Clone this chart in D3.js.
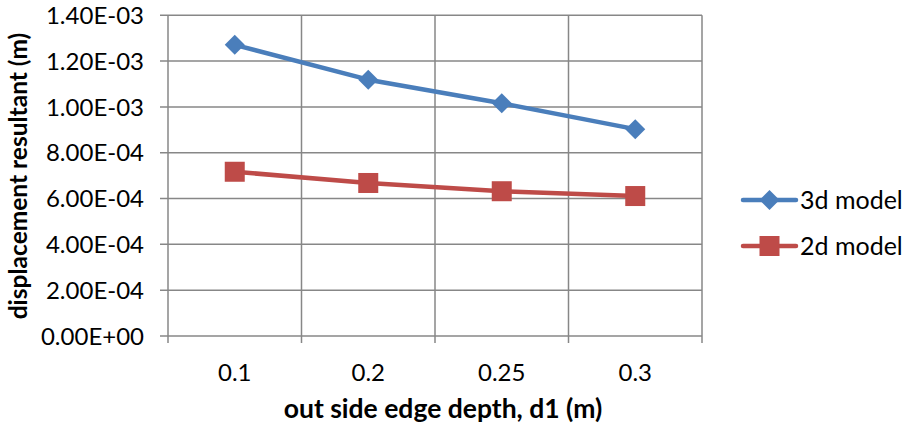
<!DOCTYPE html>
<html><head><meta charset="utf-8">
<script src="https://cdn.jsdelivr.net/npm/d3@7"></script>
<style>body{margin:0;background:#fff}svg{display:block}text{font-family:Lato,"Open Sans",sans-serif;fill:#000}</style>
</head><body>
<svg id="c" width="905" height="427"></svg>
<script>
const categories = ["0.1", "0.2", "0.25", "0.3"];
const series3d = [1.271e-3, 1.119e-3, 1.016e-3, 9.03e-4];
const series2d = [7.17e-4, 6.68e-4, 6.32e-4, 6.11e-4];
const yTicks = [0, 2e-4, 4e-4, 6e-4, 8e-4, 1.0e-3, 1.2e-3, 1.4e-3];
const seriesNames = ["3d model", "2d model"];
const xTitle = "out side edge depth, d1 (m)";
const yTitle = "displacement resultant (m)";

const svg = d3.select("#c");
const L = 168, R = 702, T = 15.3, B = 336;
const x = d3.scaleBand().domain(categories).range([L, R]);
const y = d3.scaleLinear().domain([0, 1.4e-3]).range([B, T]);
const grid = "#878787";
const blue = "#4A7EBB", red = "#BE4B48";

function fmt(v){
  if (v === 0) return "0.00E+00";
  const e = Math.floor(Math.log10(Math.abs(v)) + 1e-9);
  const m = v / Math.pow(10, e);
  const s = e < 0 ? "-" : "+";
  return m.toFixed(2) + "E" + s + String(Math.abs(e)).padStart(2, "0");
}

// horizontal grid
svg.append("g").selectAll("line").data(yTicks).join("line")
  .attr("x1", L - 8).attr("x2", R).attr("y1", d => y(d)).attr("y2", d => y(d))
  .attr("stroke", grid).attr("stroke-width", 1.5);
// vertical grid at band boundaries
const bounds = categories.map(c => x(c)).concat([R]);
svg.append("g").selectAll("line").data(bounds).join("line")
  .attr("x1", d => d).attr("x2", d => d).attr("y1", T).attr("y2", B + 7)
  .attr("stroke", grid).attr("stroke-width", 1.5);

// y tick labels
svg.append("g").selectAll("text").data(yTicks).join("text")
  .attr("x", 144).attr("y", d => y(d)).attr("dy", "0.36em")
  .attr("text-anchor", "end").style("font-size", "24px").text(fmt);
// x tick labels
svg.append("g").selectAll("text").data(categories).join("text")
  .attr("x", d => x(d) + x.bandwidth() / 2).attr("y", 381)
  .attr("text-anchor", "middle").style("font-size", "24px").text(d => d);

// titles
svg.append("text").attr("x", 443).attr("y", 418)
  .attr("text-anchor", "middle").style("font-size", "26.5px").style("font-weight", "bold").text(xTitle);
svg.append("text").attr("transform", "translate(27,176) rotate(-90)")
  .attr("text-anchor", "middle").style("font-size", "24.5px").style("font-weight", "bold").text(yTitle);

const cx = d => x(d) + x.bandwidth() / 2;
const line = d3.line().x((d, i) => cx(categories[i])).y(d => y(d));

function diamond(g, px, py, c){
  g.append("path").attr("d", `M${px},${py-10}L${px+10},${py}L${px},${py+10}L${px-10},${py}Z`).attr("fill", c);
}
function square(g, px, py, c){
  g.append("rect").attr("x", px - 10).attr("y", py - 10).attr("width", 20).attr("height", 20).attr("fill", c);
}

const sets = [{v: series3d, c: blue, m: diamond}, {v: series2d, c: red, m: square}];
sets.forEach(s => {
  svg.append("path").attr("d", line(s.v)).attr("fill", "none").attr("stroke", s.c)
    .attr("stroke-width", 4.5).attr("stroke-linejoin", "round").attr("stroke-linecap", "round");
  const g = svg.append("g");
  s.v.forEach((v, i) => s.m(g, cx(categories[i]), y(v), s.c));
});

// legend
const legY = [200, 246];
sets.forEach((s, i) => {
  const g = svg.append("g");
  g.append("line").attr("x1", 743).attr("x2", 796).attr("y1", legY[i]).attr("y2", legY[i])
    .attr("stroke", s.c).attr("stroke-width", 4.5).attr("stroke-linecap", "round");
  s.m(g, 769.5, legY[i], s.c);
  g.append("text").attr("x", 800).attr("y", legY[i]).attr("dy", "0.36em")
    .style("font-size", "25px").text(seriesNames[i]);
});
</script>
</body></html>
